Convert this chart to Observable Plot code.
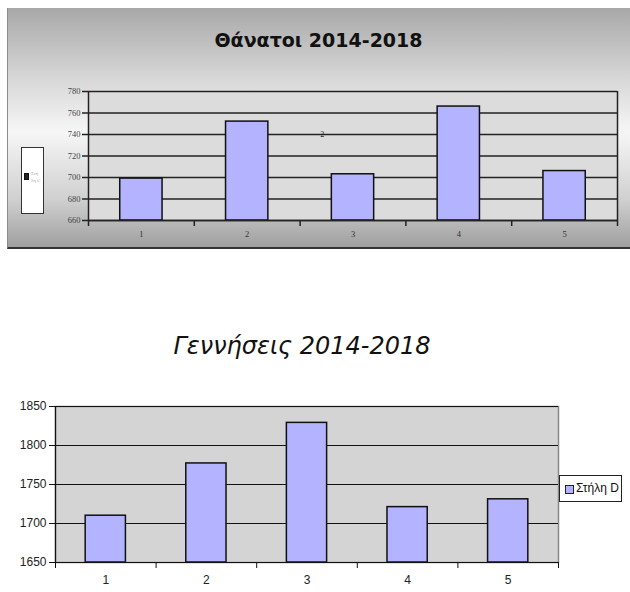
<!DOCTYPE html>
<html>
<head>
<meta charset="utf-8">
<script src="https://cdn.jsdelivr.net/npm/d3@7"></script>
<script src="https://cdn.jsdelivr.net/npm/@observablehq/plot@0.6"></script>
<style>
  html, body { margin: 0; padding: 0; background: #fff; }
  #wrap { position: relative; width: 630px; height: 592px; overflow: hidden; font-family: "Liberation Sans", Arial, sans-serif; }
  #panel { position: absolute; left: 7px; top: 8px; width: 623px; height: 239px;
    background: linear-gradient(to bottom, #a8a8a8 0%, #d8d8d8 30%, #f6f6f6 52%, #d0d0d0 80%, #9f9f9f 100%);
    border-left: 1px solid #8a8a8a; border-bottom: 2px solid #333; }
  .abs { position: absolute; }
  #t1 { left: 7px; width: 623px; top: 29px; text-align: center; font: bold 19px "DejaVu Sans", sans-serif; color: #111; }
  #t2 { left: 0; width: 604px; top: 332px; text-align: center; font: italic 24px "DejaVu Sans", sans-serif; color: #111; }
  #leg1 { left: 21px; top: 147px; width: 21px; height: 65px; background: #fff; border: 1.5px solid #333; }
  #leg2 { left: 559px; top: 475px; width: 63px; height: 27px; background: #fff; border: 1px solid #222; box-sizing: border-box; }
</style>
</head>
<body>
<div id="wrap">
  <div id="panel"></div>
  <div id="t1" class="abs"></div>
  <div id="c1" class="abs" style="left:0;top:0"></div>
  <div id="leg1" class="abs"></div>
  <div id="t2" class="abs"></div>
  <div id="c2" class="abs" style="left:0;top:380px"></div>
  <div id="leg2" class="abs"></div>
</div>
<script>
// ---- data ----
const categories = [1, 2, 3, 4, 5];
const deaths = [699, 752, 703, 766, 706];
const births = [1710, 1777, 1829, 1721, 1731];
const deathsTicks = [660, 680, 700, 720, 740, 760, 780];
const birthsTicks = [1650, 1700, 1750, 1800, 1850];
const title1 = "Θάνατοι 2014-2018";
const title2 = "Γεννήσεις 2014-2018";
const legend1 = ["Στή", "λη C"];
const legend2 = "Στήλη D";
const strayLabel = "2";

const barFill = "#b3b3ff";
const boundaries = [0.5, 1.5, 2.5, 3.5, 4.5, 5.5];
const halfBar = 0.2;
const plain = d => String(d);

document.getElementById("t1").textContent = title1;
document.getElementById("t2").textContent = title2;

const d1 = categories.map((c, i) => ({c, v: deaths[i]}));
const d2 = categories.map((c, i) => ({c, v: births[i]}));

// ---- top chart ----
const p1 = Plot.plot({
  width: 630, height: 250,
  marginLeft: 88, marginRight: 13, marginTop: 91, marginBottom: 30,
  style: {background: "transparent", overflow: "visible"},
  x: {domain: [0.5, 5.5]},
  y: {domain: [660, 780]},
  marks: [
    Plot.frame({fill: "#dcdcdc", stroke: "none"}),
    Plot.gridY(deathsTicks, {stroke: "#222", strokeOpacity: 1, strokeWidth: 1.5}),
    Plot.ruleX([5.5], {stroke: "#222", strokeWidth: 1.5}),
    Plot.rect(d1, {x1: d => d.c - halfBar, x2: d => d.c + halfBar, y1: 660, y2: "v", fill: barFill, stroke: "#111", strokeWidth: 1.5}),
    Plot.axisY(deathsTicks, {tickSize: 6, tickPadding: 2, tickFormat: plain, fontSize: 8.5, fill: "#444", stroke: "#222", strokeWidth: 1.5, fontFamily: "Liberation Serif, serif", label: null}),
    Plot.ruleX([0.5], {stroke: "#222", strokeWidth: 1.5}),
    Plot.ruleY([660], {stroke: "#222", strokeWidth: 1.5}),
    Plot.axisX(boundaries, {tickSize: 6, tickFormat: () => "", stroke: "#222", strokeWidth: 1.5, label: null}),
    Plot.axisX(categories, {tickSize: 0, tickPadding: 10, tickFormat: plain, fontSize: 8.5, fill: "#333", fontFamily: "Liberation Serif, serif", label: null}),
    Plot.text([strayLabel], {x: 2.71, y: 740, text: d => d, fontSize: 8, fill: "#222", fontFamily: "Liberation Serif, serif"})
  ]
});
document.getElementById("c1").appendChild(p1);

// top legend (tiny)
document.getElementById("leg1").innerHTML =
  `<div style="position:absolute;left:2px;top:25px;width:3px;height:5px;background:#223;border:1px solid #111"></div>
   <div style="position:absolute;left:9px;top:22px;font:5px 'Liberation Serif',serif;color:#aaa;line-height:7px">${legend1[0]}<br>${legend1[1]}</div>`;

// ---- bottom chart ----
const p2 = Plot.plot({
  width: 630, height: 212,
  marginLeft: 55, marginRight: 72, marginTop: 26, marginBottom: 30,
  style: {background: "transparent", overflow: "visible", fontFamily: "Liberation Sans, Arial, sans-serif"},
  x: {domain: [0.5, 5.5]},
  y: {domain: [1650, 1850]},
  marks: [
    Plot.frame({fill: "#d4d4d4", stroke: "#888", strokeWidth: 1.5}),
    Plot.gridY(birthsTicks, {stroke: "#111", strokeOpacity: 1, strokeWidth: 1.2}),
    Plot.rect(d2, {x1: d => d.c - halfBar, x2: d => d.c + halfBar, y1: 1650, y2: "v", fill: barFill, stroke: "#111", strokeWidth: 1.5}),
    Plot.axisY(birthsTicks, {tickSize: 6, tickPadding: 3, tickFormat: plain, fontSize: 12, fill: "#222", stroke: "#111", label: null}),
    Plot.ruleX([0.5], {stroke: "#111", strokeWidth: 1.2}),
    Plot.ruleY([1650], {stroke: "#111", strokeWidth: 1.2}),
    Plot.axisX(boundaries, {tickSize: 6, tickFormat: () => "", stroke: "#111", label: null}),
    Plot.axisX(categories, {tickSize: 0, tickPadding: 13, tickFormat: plain, fontSize: 12, fill: "#222", label: null})
  ]
});
document.getElementById("c2").appendChild(p2);

document.getElementById("leg2").innerHTML =
  `<div style="position:absolute;left:5px;top:9px;width:7px;height:7px;background:${barFill};border:1px solid #222"></div>
   <div style="position:absolute;left:16px;top:5px;font:12px 'Liberation Sans',Arial,sans-serif;color:#111">${legend2}</div>`;
</script>
</body>
</html>
